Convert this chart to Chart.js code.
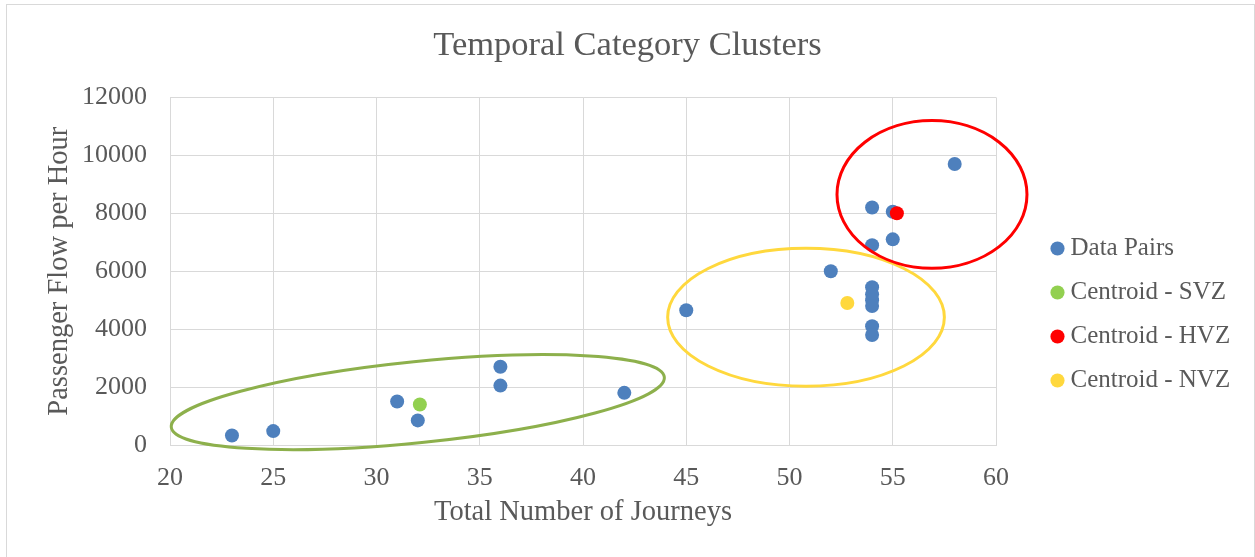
<!DOCTYPE html>
<html>
<head>
<meta charset="utf-8">
<title>Temporal Category Clusters</title>
<script src="https://cdn.jsdelivr.net/npm/chart.js@4/dist/chart.umd.min.js"></script>
<style>
  html, body { margin: 0; padding: 0; background: #ffffff; }
  #wrap { width: 1255px; height: 557px; position: relative; }
</style>
</head>
<body>
<div id="wrap"><canvas id="clusterChart"></canvas></div>
<script>
// Data
const pairJourneys = [23, 25, 31, 32, 36, 36, 42, 45, 52, 54, 54, 54, 54, 54, 54, 54, 54, 55, 55, 58];
const pairFlow = [330, 480, 1500, 850, 2700, 2050, 1800, 4650, 6000, 8200, 6900, 5450, 5200, 5000, 4800, 4100, 3800, 8050, 7100, 9700];

const centroidNames = ['Centroid - SVZ', 'Centroid - HVZ', 'Centroid - NVZ'];
const centroidJourneys = [32.1, 55.2, 52.8];
const centroidFlow = [1400, 8000, 4900];

// Cluster outlines, in data units (centre, half-widths, tilt in degrees)
const clusterCentreX = [32, 50.8, 56.9];
const clusterCentreY = [1480, 4410, 8650];
const clusterRadiusX = [12, 6.7, 4.6];
const clusterRadiusY = [1400, 2380, 2550];
const clusterTilt = [5.8, 0, 0];

const xTicks = [20, 25, 30, 35, 40, 45, 50, 55, 60];
const yTicks = [0, 2000, 4000, 6000, 8000, 10000, 12000];

const COLORS = {
  pairs: '#4e80bd',
  svz: '#92d050',
  hvz: '#ff0000',
  nvz: '#ffd83d',
  svzRing: '#8db04c',
  nvzRing: '#ffd83d',
  hvzRing: '#ff0000',
  text: '#595959',
  grid: '#d9d9d9',
};
const centroidColors = [COLORS.svz, COLORS.hvz, COLORS.nvz];
const ringColors = [COLORS.svzRing, COLORS.nvzRing, COLORS.hvzRing];

const FONT = "'Liberation Serif', 'Times New Roman', serif";

// outer frame of the chart
const frame = {
  id: 'frame',
  beforeDraw(chart) {
    const ctx = chart.ctx;
    ctx.save();
    ctx.strokeStyle = COLORS.grid;
    ctx.lineWidth = 1;
    ctx.strokeRect(6.5, 4.5, chart.width - 7, chart.height + 10);
    ctx.restore();
  }
};

// ellipses drawn around each cluster, placed via the scales
const clusterRings = {
  id: 'clusterRings',
  afterDatasetsDraw(chart) {
    const {ctx, scales: {x, y}} = chart;
    const pxX = x.getPixelForValue(21) - x.getPixelForValue(20);
    const pxY = y.getPixelForValue(0) - y.getPixelForValue(1);
    ctx.save();
    ctx.lineWidth = 3;
    for (let i = 0; i < clusterCentreX.length; i++) {
      ctx.beginPath();
      ctx.ellipse(
        x.getPixelForValue(clusterCentreX[i]),
        y.getPixelForValue(clusterCentreY[i]),
        clusterRadiusX[i] * pxX,
        clusterRadiusY[i] * pxY,
        -clusterTilt[i] * Math.PI / 180,
        0, Math.PI * 2
      );
      ctx.strokeStyle = ringColors[i];
      ctx.stroke();
    }
    ctx.restore();
  }
};

// fixed legend column and its offset from the plot
const legendPlace = {
  id: 'legendPlace',
  beforeInit(chart) {
    const legend = chart.legend;
    if (!legend) return;
    const fit = legend.fit;
    legend.fit = function() {
      fit.call(this);
      this.width = 259;
    };
  },
  afterLayout(chart) {
    const lg = chart.legend;
    if (!lg) return;
    lg.left += 42;
    lg.top += 36;
    lg.bottom += 36;
  }
};

const datasets = [{
  label: 'Data Pairs',
  data: pairJourneys.map((v, i) => ({x: v, y: pairFlow[i]})),
  backgroundColor: COLORS.pairs,
  borderColor: COLORS.pairs,
  order: 1
}];
centroidNames.forEach((name, i) => {
  datasets.push({
    label: name,
    data: [{x: centroidJourneys[i], y: centroidFlow[i]}],
    backgroundColor: centroidColors[i],
    borderColor: centroidColors[i],
    order: 0
  });
});

new Chart(document.getElementById('clusterChart'), {
  type: 'scatter',
  data: { datasets: datasets },
  plugins: [frame, legendPlace, clusterRings],
  options: {
    responsive: true,
    maintainAspectRatio: false,
    animation: false,
    layout: { padding: 0 },
    elements: {
      point: { radius: 7, hoverRadius: 7, borderWidth: 0, pointStyle: 'circle' }
    },
    plugins: {
      tooltip: { enabled: false },
      title: {
        display: true,
        text: 'Temporal Category Clusters',
        color: COLORS.text,
        font: { family: FONT, size: 34.5, weight: 'normal' },
        padding: { top: 25, bottom: 31 }
      },
      legend: {
        display: true,
        position: 'right',
        align: 'center',
        labels: {
          color: COLORS.text,
          font: { family: FONT, size: 25 },
          usePointStyle: true,
          pointStyle: 'circle',
          boxWidth: 1,
          boxHeight: 10,
          padding: 19,
          sort: (a, b) => a.datasetIndex - b.datasetIndex
        }
      }
    },
    scales: {
      x: {
        type: 'linear',
        min: 20,
        max: 60,
        afterBuildTicks: scale => { scale.ticks = xTicks.map(v => ({value: v})); },
        afterFit: scale => { scale.height = 112; },
        grid: { color: COLORS.grid, drawTicks: false },
        border: { color: COLORS.grid },
        ticks: {
          color: COLORS.text,
          font: { family: FONT, size: 26 },
          padding: 18,
          maxRotation: 0
        },
        title: {
          display: true,
          text: 'Total Number of Journeys',
          color: COLORS.text,
          font: { family: FONT, size: 28.5 },
          padding: { top: 0, bottom: 27 }
        }
      },
      y: {
        type: 'linear',
        min: 0,
        max: 12000,
        afterBuildTicks: scale => { scale.ticks = yTicks.map(v => ({value: v})); },
        afterFit: scale => { scale.width = 170; },
        grid: { color: COLORS.grid, drawTicks: false },
        border: { color: COLORS.grid },
        ticks: {
          color: COLORS.text,
          font: { family: FONT, size: 26 },
          padding: 23,
          callback: v => String(v)
        },
        title: {
          display: true,
          text: 'Passenger Flow per Hour',
          color: COLORS.text,
          font: { family: FONT, size: 28.5 },
          padding: { top: 42, bottom: 0 }
        }
      }
    }
  }
});
</script>
</body>
</html>
